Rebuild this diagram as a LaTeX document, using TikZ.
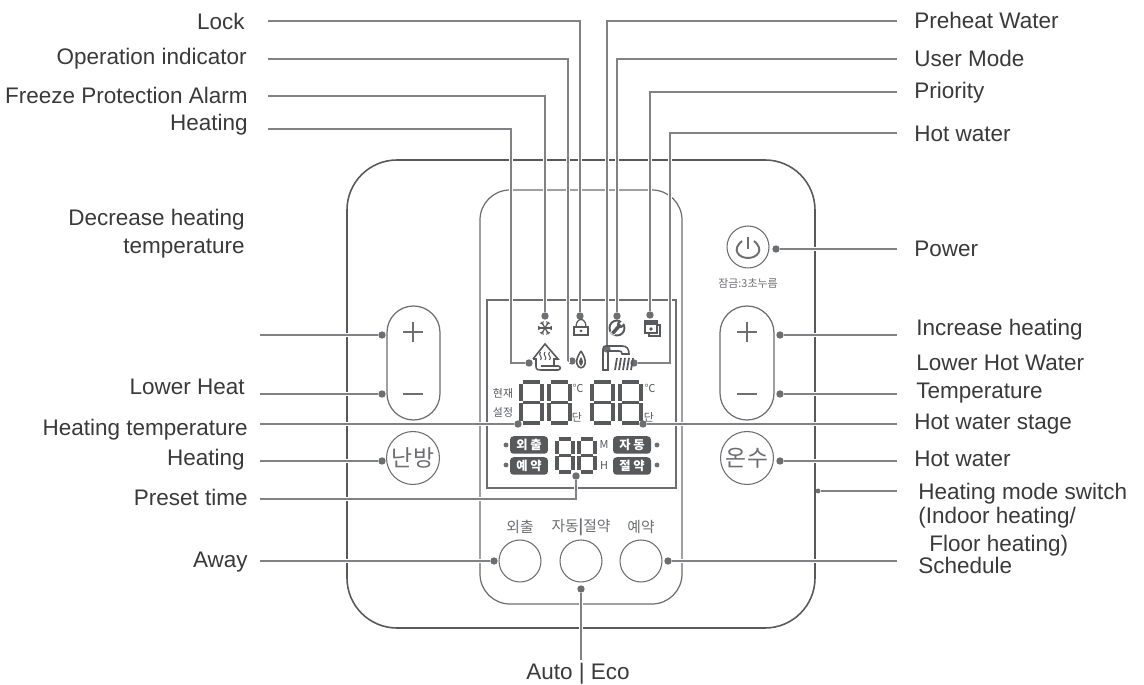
\documentclass[tikz,border=0pt]{standalone}
\usepackage{fontspec}
\setmainfont{Liberation Sans}
\newfontfamily\krfont{Noto Sans CJK KR}
\definecolor{inkgray}{HTML}{3A3A3A}
\definecolor{wiregray}{HTML}{808285}
\definecolor{dotgray}{HTML}{6D6E71}
\definecolor{edgegray}{HTML}{58595B}
\newcommand{\lcdeight}[4]{
    \draw[lcdseg] (#1+2,#2) -- (#1+#3-2,#2);
    \draw[lcdseg] (#1+2,#2+#4/2) -- (#1+#3-2,#2+#4/2);
    \draw[lcdseg] (#1+2,#2+#4) -- (#1+#3-2,#2+#4);
    \draw[lcdseg] (#1,#2+2) -- (#1,#2+#4/2-1);
    \draw[lcdseg] (#1+#3,#2+2) -- (#1+#3,#2+#4/2-1);
    \draw[lcdseg] (#1,#2+#4/2+1) -- (#1,#2+#4-2);
    \draw[lcdseg] (#1+#3,#2+#4/2+1) -- (#1+#3,#2+#4-2);
}
\begin{document}
\begin{tikzpicture}[
        x=0.02cm, y=-0.02cm,
        leftlabel/.style={anchor=east, inner sep=0pt, yshift=-0.7pt, text=inkgray, align=right, font=\fontsize{12.8}{15.9}\selectfont},
        rightlabel/.style={anchor=west, inner sep=0pt, yshift=-0.7pt, text=inkgray, align=left, font=\fontsize{12.8}{15.9}\selectfont},
        lead/.style={draw=wiregray, line width=0.6pt, preaction={draw=white, line width=2pt}},
        tip/.style={circle, fill=dotgray, inner sep=0pt, minimum size=4.2pt},
        smalltip/.style={circle, fill=dotgray, inner sep=0pt, minimum size=2.8pt},
        shell/.style={draw=edgegray, line width=0.9pt},
        bezel/.style={draw=dotgray, line width=0.7pt},
        roundbtn/.style={circle, draw=dotgray, line width=0.6pt, inner sep=0pt, text=dotgray},
        keytext/.style={inner sep=0pt, text=dotgray, font=\krfont\fontsize{8.4}{9}\selectfont},
        lcdtext/.style={inner sep=0pt, text=edgegray, font=\krfont\fontsize{6.2}{7}\selectfont},
        chip/.style={rounded corners=2pt, fill=edgegray, text=white, inner sep=0pt, minimum width=0.76cm, minimum height=0.35cm, font=\krfont\bfseries\fontsize{7}{8}\selectfont},
        lcdseg/.style={draw=edgegray, line width=1.8pt},
        icon/.style={draw=edgegray, line width=0.9pt}
    ]
    \useasboundingbox (0,0) rectangle (1144,685);
    \fill[white] (0,0) rectangle (1144,685);

    % panel
    \draw[shell, rounded corners=1cm] (347,160) rectangle (815,628);
    \draw[bezel, rounded corners=0.6cm] (480,190) rectangle (682,604);
    \draw[draw=dotgray, line width=0.9pt] (487,300) rectangle (676,488);
    \draw[bezel, rounded corners=0.53cm] (387,306) rectangle (440,420);
    \draw[bezel, rounded corners=0.54cm] (720,306) rectangle (774,420);
    \foreach \x in {413,747} {
        \draw[icon, draw=dotgray] (\x-10,332) -- (\x+10,332) (\x,322) -- (\x,342);
        \draw[icon, draw=dotgray] (\x-10,394) -- (\x+10,394);
    }
    \node (heatbtn) at (413,458) [roundbtn, minimum size=1.06cm, font=\krfont\fontsize{13}{14}\selectfont] {난방};
    \node (waterbtn) at (747,458) [roundbtn, minimum size=1.06cm, font=\krfont\fontsize{13}{14}\selectfont] {온수};
    \node (powerbtn) at (748,247) [roundbtn, minimum size=0.84cm] {};
    \draw[draw=dotgray, line width=1.1pt] (742,241) .. controls (731,250) and (739,258) .. (748,258) .. controls (757,258) and (765,250) .. (754,241);
    \draw[draw=dotgray, line width=1.1pt] (748,237) -- (748,249);
    \node (locktext) at (748,283) [keytext, font=\krfont\fontsize{6.2}{7}\selectfont] {잠금:3초누름};
    \node (awaybtn) at (520,561) [roundbtn, minimum size=0.84cm] {};
    \node (autobtn) at (581,561) [roundbtn, minimum size=0.84cm] {};
    \node (timerbtn) at (641,561) [roundbtn, minimum size=0.84cm] {};
    \node (awaykey) at (520,527) [keytext] {외출};
    \node (autokey) at (581,527) [keytext] {자동\textbf{|}절약};
    \node (timerkey) at (641,527) [keytext] {예약};

    % lcd
    \foreach \x in {521,549,592,620} {\lcdeight{\x}{382}{21}{41}}
    \foreach \x in {557,579} {\lcdeight{\x}{439}{16}{33}}
    \node (nowtext) at (503,393) [lcdtext] {현재};
    \node (settext) at (503,412) [lcdtext] {설정};
    \node (degleft) at (578,388) [lcdtext] {℃};
    \node (degright) at (650,388) [lcdtext] {℃};
    \node (stepleft) at (577,417) [lcdtext] {단};
    \node (stepright) at (649,417) [lcdtext] {단};
    \node (mtext) at (604,445) [lcdtext] {M};
    \node (htext) at (604,466) [lcdtext] {H};
    \node (awaychip) at (529,445) [chip] {외 출};
    \node (timerchip) at (529,466) [chip] {예 약};
    \node (autochip) at (632,445) [chip] {자 동};
    \node (ecochip) at (632,466) [chip] {절 약};
    \foreach \x in {506,657} {
        \foreach \y in {445,465} {
            \node at (\x,\y) [smalltip] {};
        }
    }

    % target dots
    \node (lockdot) at (580,316) [tip] {};
    \node (runningdot) at (572,361) [tip] {};
    \node (freezedot) at (545,316) [tip] {};
    \node (heatdot) at (529,363) [tip] {};
    \node (preheatdot) at (607,349) [tip] {};
    \node (userdot) at (617,316) [tip] {};
    \node (prioritydot) at (650,315) [tip] {};
    \node (waterdot) at (634,363) [tip] {};
    \node (powerdot) at (776,249) [tip] {};
    \node (plusdot) at (382,335) [tip] {};
    \node (minusdot) at (382,394) [tip] {};
    \node (heatkeydot) at (382,461) [tip] {};
    \node (heatsetdot) at (518,424) [tip] {};
    \node (stagedot) at (643,424) [tip] {};
    \node (presetdot) at (576,476) [tip] {};
    \node (awaydot) at (494,561) [tip] {};
    \node (timerdot) at (668,561) [tip] {};
    \node (autodot) at (581,589) [tip] {};
    \node (incdot) at (780,335) [tip] {};
    \node (decdot) at (780,394) [tip] {};
    \node (waterkeydot) at (780,461) [tip] {};
    \node (modedot) at (818,491) [smalltip] {};

    % free ends
    \coordinate (lockend) at (268,21);
    \coordinate (runningend) at (268,59);
    \coordinate (freezeend) at (268,96);
    \coordinate (heatend) at (268,129);
    \coordinate (preheatend) at (897,21);
    \coordinate (userend) at (897,59);
    \coordinate (priorityend) at (897,92);
    \coordinate (waterend) at (897,133);
    \coordinate (powerend) at (897,249);
    \coordinate (plusend) at (260,335);
    \coordinate (minusend) at (260,394);
    \coordinate (heatsetend) at (260,424);
    \coordinate (heatkeyend) at (260,461);
    \coordinate (presetend) at (260,499);
    \coordinate (awayend) at (260,561);
    \coordinate (timerend) at (897,561);
    \coordinate (autoend) at (581,660);
    \coordinate (incend) at (897,335);
    \coordinate (decend) at (897,394);
    \coordinate (stageend) at (897,424);
    \coordinate (waterkeyend) at (897,461);
    \coordinate (modeend) at (897,491);

    % leaders
    \draw[lead] (lockend) -| (lockdot);
    \draw[lead] (runningend) -- (568,59) |- (runningdot);
    \draw[lead] (freezeend) -| (freezedot);
    \draw[lead] (heatend) -- (511,129) |- (heatdot);
    \draw[lead] (preheatend) -| (preheatdot);
    \draw[lead] (userend) -| (userdot);
    \draw[lead] (priorityend) -| (prioritydot);
    \draw[lead] (waterend) -- (670,133) |- (waterdot);
    \draw[lead] (powerend) -- (powerdot);
    \draw[lead] (plusend) -- (plusdot);
    \draw[lead] (minusend) -- (minusdot);
    \draw[lead] (heatsetend) -- (heatsetdot);
    \draw[lead] (heatkeyend) -- (heatkeydot);
    \draw[lead] (presetend) -| (presetdot);
    \draw[lead] (awayend) -- (awaydot);
    \draw[lead] (timerend) -- (timerdot);
    \draw[lead] (autoend) -- (autodot);
    \draw[lead] (incend) -- (incdot);
    \draw[lead] (decend) -- (decdot);
    \draw[lead] (stageend) -- (stagedot);
    \draw[lead] (waterkeyend) -- (waterkeydot);
    \draw[lead] (modeend) -- (modedot);

    % icons
    \foreach \a in {0,60,120} {
        \draw[icon, line width=0.7pt] (545,328) ++(\a:7) -- ++(\a+180:14);
    }
    \foreach \a in {0,60,120,180,240,300} {
        \draw[icon, line width=0.5pt] (545,328) ++(\a:4.5) -- ++(\a+40:3) (545,328) ++(\a:4.5) -- ++(\a-40:3);
    }
    \draw[icon, line width=0.7pt] (574,327) rectangle (588,335);
    \draw[icon, line width=0.7pt] (576,327) .. controls (576,317) and (586,317) .. (586,327);
    \fill[edgegray] (581,331) circle (1.5);
    \draw[icon, line width=1.1pt] (617,328) circle (7.5);
    \draw[white, line width=3pt] (612,334) -- (621,324);
    \draw[white, line width=3pt] (621,324) -- (626,318);
    \draw[edgegray, line width=2pt] (612.5,333.5) -- (620,325);
    \fill[edgegray] (620.5,324.5) circle (3.6);
    \draw[white, line width=1.5pt] (620.5,324.5) -- (625,320);
    \fill[white] (645,321) rectangle (657,333);
    \draw[icon, line width=0.7pt] (657,325) -- (660,325) -- (660,336) -- (649,336) -- (649,333);
    \draw[icon, line width=0.7pt] (645,321) rectangle (657,333);
    \fill[edgegray] (645,321) rectangle (657,325);
    \fill[edgegray] (651,329) circle (1.8);
    \draw[icon] (533,359) -- (545,344) -- (558,359) -- (554,359) -- (554,365);
    \draw[icon] (533,359) -- (536,359) -- (536,366) .. controls (536,370) and (538,370) .. (541,370) -- (558,370) .. controls (561,370) and (561,366) .. (558,366) -- (541,366);
    \foreach \x in {540.5,545,549.5} {
        \draw[icon, line width=0.6pt] (\x,352) .. controls (\x-3,355) and (\x+3,357) .. (\x,360);
    }
    \draw[icon, fill=white] (581,351) .. controls (577,357) and (576,361) .. (577,364) .. controls (578,369) and (584,369) .. (585,364) .. controls (586,360) and (584,356) .. (581,351);
    \fill[edgegray] (581,357) .. controls (579,360) and (578,363) .. (581,366) .. controls (584,363) and (583,360) .. (581,357);
    \draw[icon] (603,370) -- (603,349) .. controls (603,347) and (604,346) .. (606,346) -- (622,346) .. controls (627,346) and (629,349) .. (629,354) -- (622,354) .. controls (622,352) and (621,351) .. (619,351) -- (608,351) -- (608,370) -- cycle;
    \foreach \x in {617,621,625,629,633} {
        \draw[icon, line width=1pt] (\x,358) -- (\x-2,370);
    }

    % labels
    \node (locklabel) at (245,20) [leftlabel] {Lock};
    \node (runninglabel) at (247,57) [leftlabel] {Operation indicator};
    \node (freezelabel) at (248,94) [leftlabel] {Freeze Protection Alarm};
    \node (heatlabel) at (248,123) [leftlabel] {Heating};
    \node (decreaselabel) at (245,232) [leftlabel] {Decrease heating\\temperature};
    \node (lowerlabel) at (245,386) [leftlabel] {Lower Heat};
    \node (heatsetlabel) at (248,428) [leftlabel] {Heating temperature};
    \node (heatkeylabel) at (245,458) [leftlabel] {Heating};
    \node (presetlabel) at (248,496) [leftlabel] {Preset time};
    \node (awaylabel) at (248,561) [leftlabel] {Away};
    \node (preheatlabel) at (914,19) [rightlabel] {Preheat Water};
    \node (userlabel) at (914,57) [rightlabel] {User Mode};
    \node (prioritylabel) at (914,91) [rightlabel] {Priority};
    \node (waterlabel) at (914,133) [rightlabel] {Hot water};
    \node (powerlabel) at (914,248) [rightlabel] {Power};
    \node (inclabel) at (916,328) [rightlabel] {Increase heating};
    \node (lowerhotlabel) at (916,378) [rightlabel] {Lower Hot Water\\Temperature};
    \node (stagelabel) at (914,423) [rightlabel] {Hot water stage};
    \node (waterkeylabel) at (914,458) [rightlabel] {Hot water};
    \node (modelabel) at (918,492) [rightlabel] {Heating mode switch};
    \node (modelabelb) at (918,516) [rightlabel] {(Indoor heating/};
    \node (modelabelc) at (929,544) [rightlabel] {Floor heating)};
    \node (schedulelabel) at (918,564) [rightlabel] {Schedule};
    \node (autolabel) at (578,673) [inner sep=0pt, yshift=-0.7pt, text=inkgray, font=\fontsize{12.8}{15.9}\selectfont] {Auto | Eco};
\end{tikzpicture}
\end{document}
